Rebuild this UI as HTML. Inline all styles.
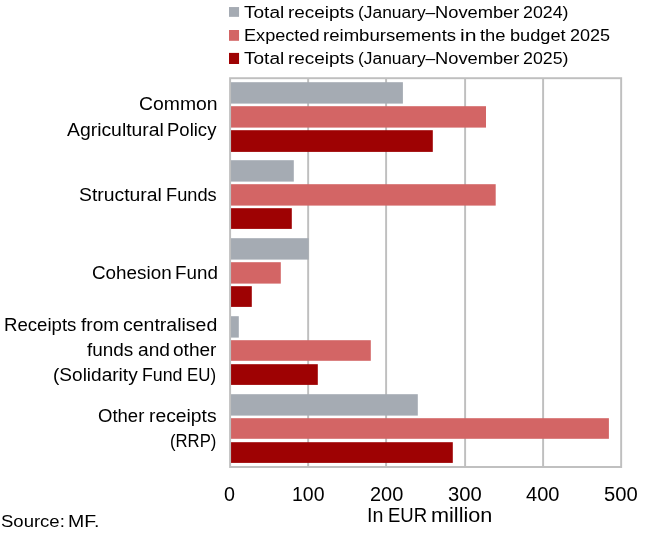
<!DOCTYPE html>
<html><head><meta charset="utf-8">
<style>
html,body{margin:0;padding:0;background:#fff;}
body{width:650px;height:533px;position:relative;overflow:hidden;font-family:"Liberation Sans",sans-serif;color:#000;font-size:16px;}
.abs{position:absolute;}
.grp{position:absolute;left:0;top:0;}
.t{position:absolute;white-space:nowrap;line-height:24px;transform-origin:0 0;}
</style></head><body>
<!-- chart -->
<svg class="abs" style="left:0;top:0" width="650" height="533" viewBox="0 0 650 533">
<g stroke="#bfbfbf" stroke-width="1.95" fill="none">
<line x1="308.15" y1="78.2" x2="308.15" y2="467"/>
<line x1="386.1" y1="78.2" x2="386.1" y2="467"/>
<line x1="465.1" y1="78.2" x2="465.1" y2="467"/>
<line x1="543.1" y1="78.2" x2="543.1" y2="467"/>
</g>
<rect x="230" y="82.2" width="172.9" height="21.4" fill="#a5abb3"/>
<rect x="230" y="106.2" width="256.0" height="21.4" fill="#d36565"/>
<rect x="230" y="130.2" width="202.8" height="21.7" fill="#9e0203"/>
<rect x="230" y="160.2" width="63.8" height="21.4" fill="#a5abb3"/>
<rect x="230" y="184.2" width="265.7" height="21.4" fill="#d36565"/>
<rect x="230" y="208.2" width="61.8" height="20.7" fill="#9e0203"/>
<rect x="230" y="238.2" width="78.7" height="21.4" fill="#a5abb3"/>
<rect x="230" y="262.2" width="50.8" height="21.4" fill="#d36565"/>
<rect x="230" y="286.2" width="21.8" height="20.7" fill="#9e0203"/>
<rect x="230" y="316.2" width="8.8" height="21.4" fill="#a5abb3"/>
<rect x="230" y="340.2" width="140.8" height="20.6" fill="#d36565"/>
<rect x="230" y="364.2" width="87.8" height="20.7" fill="#9e0203"/>
<rect x="230" y="394.2" width="187.8" height="21.4" fill="#a5abb3"/>
<rect x="230" y="418.2" width="378.9" height="20.6" fill="#d36565"/>
<rect x="230" y="442.2" width="222.8" height="20.7" fill="#9e0203"/>
<rect x="230.1" y="78.2" width="391.05" height="388.8" fill="none" stroke="#bfbfbf" stroke-width="1.95"/>
<rect x="229" y="7.05" width="10.05" height="9.8" fill="#a5abb3"/>
<rect x="229" y="30" width="10.05" height="10.8" fill="#d36565"/>
<rect x="229" y="52.9" width="10.05" height="11.1" fill="#9e0203"/>
</svg>
<!-- text -->
<div class="grp legend">
<span class="t" style="left:244.30px;top:1.00px;font-size:16.0px;transform:scaleX(1.1908)">Total</span>
<span class="t" style="left:288.42px;top:1.00px;font-size:16.0px;transform:scaleX(1.1835)">receipts</span>
<span class="t" style="left:357.71px;top:1.00px;font-size:16.0px;transform:scaleX(1.0861)">(January–</span>
<span class="t" style="left:434.97px;top:1.00px;font-size:16.0px;transform:scaleX(1.1433)">November</span>
<span class="t" style="left:523.17px;top:1.00px;font-size:16.0px;transform:scaleX(1.1108)">2024)</span>
<span class="t" style="left:243.99px;top:24.00px;font-size:16.0px;transform:scaleX(1.1318)">Expected</span>
<span class="t" style="left:323.14px;top:24.00px;font-size:16.0px;transform:scaleX(1.1602)">reimbursements</span>
<span class="t" style="left:460.18px;top:24.00px;font-size:16.0px;transform:scaleX(1.3238)">in</span>
<span class="t" style="left:480.31px;top:24.00px;font-size:16.0px;transform:scaleX(1.1482)">the</span>
<span class="t" style="left:509.76px;top:24.00px;font-size:16.0px;transform:scaleX(1.1372)">budget</span>
<span class="t" style="left:569.75px;top:24.00px;font-size:16.0px;transform:scaleX(1.1270)">2025</span>
<span class="t" style="left:244.30px;top:47.00px;font-size:16.0px;transform:scaleX(1.1908)">Total</span>
<span class="t" style="left:288.42px;top:47.00px;font-size:16.0px;transform:scaleX(1.1835)">receipts</span>
<span class="t" style="left:357.71px;top:47.00px;font-size:16.0px;transform:scaleX(1.0861)">(January–</span>
<span class="t" style="left:434.97px;top:47.00px;font-size:16.0px;transform:scaleX(1.1433)">November</span>
<span class="t" style="left:523.17px;top:47.00px;font-size:16.0px;transform:scaleX(1.1108)">2025)</span>
</div>
<div class="grp ylabels">
<span class="t" style="left:139.06px;top:92.00px;font-size:18.7px;transform:scaleX(1.0367)">Common</span>
<span class="t" style="left:67.20px;top:118.00px;font-size:18.7px;transform:scaleX(1.0363)">Agricultural</span>
<span class="t" style="left:167.01px;top:118.00px;font-size:18.7px;transform:scaleX(0.9907)">Policy</span>
<span class="t" style="left:78.76px;top:183.00px;font-size:18.7px;transform:scaleX(1.0354)">Structural</span>
<span class="t" style="left:165.54px;top:183.00px;font-size:18.7px;transform:scaleX(0.9749)">Funds</span>
<span class="t" style="left:91.79px;top:261.00px;font-size:18.7px;transform:scaleX(1.0085)">Cohesion</span>
<span class="t" style="left:174.69px;top:261.00px;font-size:18.7px;transform:scaleX(1.0063)">Fund</span>
<span class="t" style="left:4.11px;top:313.00px;font-size:18.7px;transform:scaleX(0.9957)">Receipts</span>
<span class="t" style="left:81.05px;top:313.00px;font-size:18.7px;transform:scaleX(1.0194)">from</span>
<span class="t" style="left:122.92px;top:313.00px;font-size:18.7px;transform:scaleX(1.0429)">centralised</span>
<span class="t" style="left:87.45px;top:338.00px;font-size:18.7px;transform:scaleX(1.0123)">funds</span>
<span class="t" style="left:138.03px;top:338.00px;font-size:18.7px;transform:scaleX(1.0256)">and</span>
<span class="t" style="left:173.24px;top:338.00px;font-size:18.7px;transform:scaleX(1.0193)">other</span>
<span class="t" style="left:53.03px;top:363.00px;font-size:18.7px;transform:scaleX(1.0190)">(Solidarity</span>
<span class="t" style="left:141.57px;top:363.00px;font-size:18.7px;transform:scaleX(0.9509)">Fund</span>
<span class="t" style="left:187.35px;top:363.00px;font-size:18.7px;transform:scaleX(0.9017)">EU)</span>
<span class="t" style="left:97.71px;top:404.00px;font-size:18.7px;transform:scaleX(0.9912)">Other</span>
<span class="t" style="left:148.71px;top:404.00px;font-size:18.7px;transform:scaleX(1.0331)">receipts</span>
<span class="t" style="left:170.08px;top:429.00px;font-size:18.7px;transform:scaleX(0.8929)">(RRP)</span>
</div>
<div class="grp xticks">
<span class="t" style="left:224.04px;top:482.00px;font-size:19.4px;transform:scaleX(1.0162)">0</span>
<span class="t" style="left:291.80px;top:482.00px;font-size:19.4px;transform:scaleX(1.0033)">100</span>
<span class="t" style="left:370.17px;top:482.00px;font-size:19.4px;transform:scaleX(1.0295)">200</span>
<span class="t" style="left:447.92px;top:482.00px;font-size:19.4px;transform:scaleX(1.0407)">300</span>
<span class="t" style="left:525.88px;top:482.00px;font-size:19.4px;transform:scaleX(1.0323)">400</span>
<span class="t" style="left:603.72px;top:482.00px;font-size:19.4px;transform:scaleX(1.0407)">500</span>
</div>
<div class="grp xtitle">
<span class="t" style="left:366.83px;top:503.00px;font-size:19.4px;transform:scaleX(1.0113)">In</span>
<span class="t" style="left:388.07px;top:503.00px;font-size:19.4px;transform:scaleX(0.9558)">EUR</span>
<span class="t" style="left:431.40px;top:503.00px;font-size:19.4px;transform:scaleX(1.1162)">million</span>
</div>
<div class="grp source">
<span class="t" style="left:0.93px;top:510.00px;font-size:16.0px;transform:scaleX(1.1566)">Source:</span>
<span class="t" style="left:67.68px;top:510.00px;font-size:16.0px;transform:scaleX(1.2174)">MF.</span>
</div>
</body></html>
